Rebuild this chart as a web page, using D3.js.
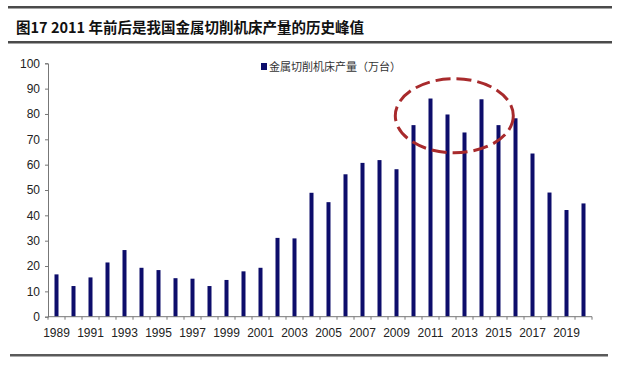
<!DOCTYPE html>
<html><head><meta charset="utf-8">
<script src="https://cdn.jsdelivr.net/npm/d3@7"></script>
<style>
html,body{margin:0;padding:0;background:#fff;}
svg{display:block;}
</style></head>
<body>
<svg id="chart" width="620" height="367"></svg>
<script>
const titleText = "图17 2011 年前后是我国金属切削机床产量的历史峰值";
const legendLabel = "金属切削机床产量（万台）";
const years = d3.range(1989, 2021).map(String);
const values = [16.7, 12.1, 15.5, 21.4, 26.3, 19.3, 18.4, 15.2, 15.0, 12.1, 14.5, 17.9, 19.3, 31.1, 30.9,
  48.9, 45.2, 56.2, 60.7, 61.8, 58.2, 75.6, 86.1, 79.8, 72.7, 85.8, 75.6, 78.3, 64.4, 49.0, 42.1, 44.7];
const yTicks = [0,10,20,30,40,50,60,70,80,90,100];
const xTickLabels = years.filter((d,i)=>i%2===0);
// highlighted peak region (center year position, center value)
const peakCenter = {year: 2012.4, value: 79.3};

const svg = d3.select("#chart");
const m = {left:48, right:28, top:63.3, bottom:50.3};
const W = 620, H = 367;

// frame lines
svg.append("rect").attr("x",8).attr("y",6).attr("width",604).attr("height",2.5).attr("fill","#4a4a4a");
svg.append("rect").attr("x",8).attr("y",41).attr("width",604).attr("height",2.5).attr("fill","#4a4a4a");
svg.append("rect").attr("x",10).attr("y",354).attr("width",598).attr("height",2.5).attr("fill","#5a5a5a");

svg.append("text").attr("x",16).attr("y",33)
  .attr("font-family","'Noto Sans CJK SC', sans-serif").attr("font-weight","bold")
  .attr("font-size",14.5).attr("fill","#111").text(titleText);

const x = d3.scaleBand().domain(years).range([m.left, W - m.right]).padding(0);
const y = d3.scaleLinear().domain([0,100]).range([H - m.bottom, m.top]);

// bars
svg.append("g").selectAll("rect").data(values).join("rect")
  .attr("x",(d,i)=>x(years[i]) + x.bandwidth()/2 - 2)
  .attr("width",4)
  .attr("y",d=>y(d))
  .attr("height",d=>y(0)-y(d))
  .attr("fill","#0d0d6b");

// y axis
const yAxis = svg.append("g").attr("transform",`translate(${m.left},0)`)
  .call(d3.axisLeft(y).tickValues(yTicks).tickSize(3).tickPadding(5));
yAxis.select(".domain").attr("stroke","#777");
yAxis.selectAll(".tick line").attr("stroke","#777");
yAxis.selectAll("text").attr("font-family","'Liberation Sans', Arial, sans-serif").attr("font-size",12).attr("fill","#222");

// x axis: baseline with ticks at category boundaries
const xg = svg.append("g").attr("transform",`translate(0,${y(0)})`);
xg.append("line").attr("x1",m.left).attr("x2",W-m.right).attr("stroke","#777");
xg.selectAll("line.tk").data(years.concat(["end"])).join("line").attr("class","tk")
  .attr("x1",(d,i)=> i<years.length ? x(d) : x(years[years.length-1])+x.bandwidth())
  .attr("x2",(d,i)=> i<years.length ? x(d) : x(years[years.length-1])+x.bandwidth())
  .attr("y1",0).attr("y2",3).attr("stroke","#777");
xg.selectAll("text").data(xTickLabels).join("text")
  .attr("x",d=>x(d)+x.bandwidth()/2).attr("y",20)
  .attr("text-anchor","middle")
  .attr("font-family","'Liberation Sans', Arial, sans-serif").attr("font-size",12).attr("fill","#222")
  .text(d=>d);

// legend
svg.append("rect").attr("x",261).attr("y",63).attr("width",6).attr("height",7).attr("fill","#0d0d6b");
svg.append("text").attr("x",269).attr("y",70.5)
  .attr("font-family","'Noto Sans CJK SC', serif").attr("font-size",11).attr("fill","#333")
  .text(legendLabel);

// dashed ellipse annotation
const yearPos = yr => m.left + (yr - 1989 + 0.5) * x.step();
svg.append("ellipse")
  .attr("cx", yearPos(peakCenter.year)).attr("cy", y(peakCenter.value))
  .attr("rx", 59).attr("ry", 37)
  .attr("fill","none").attr("stroke","#a82a2c").attr("stroke-width",3)
  .attr("stroke-dasharray","15,6");
</script>
</body></html>
